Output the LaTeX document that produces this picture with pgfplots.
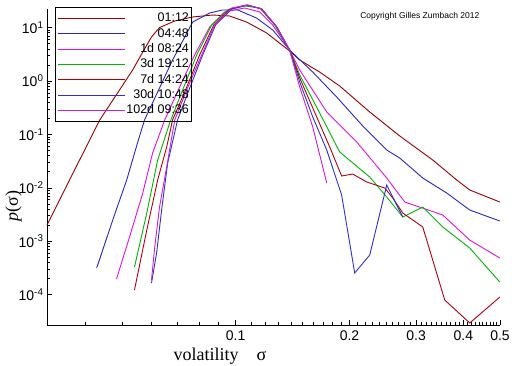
\documentclass[border=0pt]{standalone}
\usepackage{pgfplots}
\pgfplotsset{compat=1.18}
\usepackage{fontspec}
\setmainfont{Liberation Sans}
\newfontfamily\seriffont{Liberation Serif}
\definecolor{cA}{HTML}{990000}
\definecolor{cB}{HTML}{2828C0}
\definecolor{cC}{HTML}{E010E0}
\definecolor{cD}{HTML}{00B400}
\definecolor{cE}{HTML}{B00010}
\definecolor{cF}{HTML}{3030D0}
\definecolor{cG}{HTML}{C820D8}
\begin{document}
\begin{tikzpicture}[x=1pt,y=1pt]
\useasboundingbox (0,0) rectangle (512,366);
\begin{axis}[
  at={(47pt,41pt)}, anchor=south west,
  scale only axis, width=453pt, height=316pt,
  xmode=log, ymode=log,
  xmin=0.0317, xmax=0.5,
  ymin=2.7e-5, ymax=22.3,
  clip=false,
  axis lines*=left,
  axis line style={line width=0.9pt},
  xtick={0.1,0.2,0.3,0.4,0.5},
  xticklabels={0.1,0.2,0.3,0.4,0.5},
  minor xtick={0.04,0.05,0.06,0.07,0.08,0.09,0.11,0.12,0.13,0.14,0.15,0.16,0.17,0.18,0.19,0.21,0.22,0.23,0.24,0.25,0.26,0.27,0.28,0.29,0.31,0.32,0.33,0.34,0.35,0.36,0.37,0.38,0.39,0.41,0.42,0.43,0.44,0.45,0.46,0.47,0.48,0.49},
  ytick={1e-4,1e-3,1e-2,1e-1,1,10},
  yticklabels={10\textsuperscript{-4},10\textsuperscript{-3},10\textsuperscript{-2},10\textsuperscript{-1},10\textsuperscript{0},10\textsuperscript{1}},
  tick style={black, line width=0.6pt},
  major tick length=5pt, minor tick length=3pt,
  tick label style={font=\fontsize{14}{16}\selectfont},
  xticklabel style={yshift=-2pt},
  xlabel={\seriffont volatility\quad σ},
  xlabel style={at={(axis description cs:0.382,-0.111)}, anchor=base, font=\fontsize{18}{20}\selectfont},
  ylabel={{\seriffont\itshape p}\seriffont(σ)},
  ylabel style={at={(axis description cs:-0.074,0.377)}, anchor=center, rotate=0, font=\fontsize{18}{20}\selectfont},
  legend image code/.code={\draw[#1] (0pt,0pt) -- (67pt,0pt);},
  legend cell align=right,
  legend style={at={(axis description cs:0.0177,1.0063)}, anchor=north west,
    draw=black, fill=none, line width=0.9pt, inner xsep=2pt, inner ysep=4pt,
    font=\fontsize{12.5}{14}\selectfont,
    nodes={inner sep=1pt, text height=9.5pt, text depth=2.5pt},
    row sep=1.3pt,
    /tikz/every even column/.append style={column sep=14pt}},
  every axis plot/.append style={line width=0.9pt},
]
\addplot[cA] coordinates {(0.0317,0.00201)(0.0375,0.0215)(0.0437,0.186)(0.0493,0.678)(0.0534,1.61)(0.0568,3.49)(0.0599,6.67)(0.0629,10.0)(0.0690,13.3)(0.0770,15.8)(0.0870,17.2)(0.0964,16.5)(0.1069,12.7)(0.1208,7.92)(0.1389,3.65)(0.1477,2.47)(0.1668,1.47)(0.1884,0.806)(0.2262,0.263)(0.2716,0.0933)(0.3320,0.0332)(0.3843,0.0140)(0.4159,0.0091)(0.4994,0.00542)};
\addlegendentry{01:12}
\addplot[cB] coordinates {(0.0429,0.000315)(0.0473,0.00249)(0.0515,0.0140)(0.0550,0.069)(0.0574,0.186)(0.0629,0.740)(0.0681,2.47)(0.0770,12.7)(0.0854,18.8)(0.0924,21.4)(0.1012,21.4)(0.1136,15.1)(0.1253,9.02)(0.1389,3.81)(0.1599,1.47)(0.1850,0.502)(0.2168,0.144)(0.2509,0.0510)(0.2716,0.0361)(0.3124,0.01526)(0.3616,0.00799)(0.4159,0.00384)(0.4994,0.00239)};
\addlegendentry{04:48}
\addplot[cC] coordinates {(0.0484,0.000196)(0.0524,0.00120)(0.0568,0.00799)(0.0603,0.0448)(0.0649,0.186)(0.0711,0.772)(0.0779,3.07)(0.0854,10.3)(0.0935,19.6)(0.1056,23.3)(0.1157,19.6)(0.1253,11.2)(0.1389,3.81)(0.1477,1.61)(0.1741,0.263)(0.2090,0.0721)(0.2509,0.01526)(0.2800,0.00542)(0.3528,0.00310)(0.4159,0.00105)(0.4994,0.000485)};
\addlegendentry{1d 08:24}
\addplot[cD] coordinates {(0.0540,0.000329)(0.0582,0.00337)(0.0622,0.0332)(0.0669,0.163)(0.0724,0.678)(0.0789,3.07)(0.0864,11.2)(0.0952,21.4)(0.1056,25.4)(0.1157,23.3)(0.1268,11.2)(0.1389,3.81)(0.1477,1.30)(0.1668,0.252)(0.1884,0.0468)(0.2262,0.01593)(0.2509,0.00673)(0.2766,0.00284)(0.3124,0.00437)(0.3528,0.00185)(0.4159,0.000746)(0.4994,0.000172)};
\addlegendentry{3d 19:12}
\addplot[cE] coordinates {(0.0540,0.000122)(0.0582,0.00162)(0.0622,0.0140)(0.0657,0.0581)(0.0681,0.186)(0.0737,0.678)(0.0803,3.07)(0.0875,11.2)(0.0964,22.3)(0.1069,26.5)(0.1172,22.3)(0.1284,10.3)(0.1389,3.81)(0.1477,1.14)(0.1638,0.212)(0.1773,0.0581)(0.1907,0.01663)(0.2039,0.01813)(0.2222,0.01284)(0.2479,0.00991)(0.2602,0.00644)(0.2766,0.00337)(0.3124,0.00185)(0.3572,0.0000792)(0.4159,0.0000294)(0.4994,0.0000900)};
\addlegendentry{7d 14:24}
\addplot[cF] coordinates {(0.0599,0.000165)(0.0618,0.000601)(0.0637,0.00384)(0.0661,0.0291)(0.0702,0.186)(0.0756,0.740)(0.0818,3.07)(0.0885,11.2)(0.0976,22.3)(0.1076,26.5)(0.1172,22.3)(0.1284,10.3)(0.1389,3.81)(0.1477,0.958)(0.1599,0.212)(0.1741,0.0510)(0.1907,0.00733)(0.2064,0.000254)(0.2262,0.000551)(0.2509,0.01128)(0.2766,0.00284)};
\addlegendentry{30d 10:48}
\addplot[cG] coordinates {(0.0599,0.000188)(0.0611,0.000779)(0.0629,0.00437)(0.0657,0.0245)(0.0690,0.186)(0.0746,0.740)(0.0813,3.07)(0.0880,11.2)(0.0976,23.3)(0.1076,26.5)(0.1172,22.3)(0.1284,10.3)(0.1389,3.81)(0.1477,0.772)(0.1599,0.138)(0.1741,0.0123)};
\addlegendentry{102d 09:36}
\node[font=\fontsize{8.5}{10}\selectfont, anchor=center] at (axis description cs:0.823,0.978) {Copyright Gilles Zumbach 2012};
\end{axis}
\end{tikzpicture}
\end{document}
